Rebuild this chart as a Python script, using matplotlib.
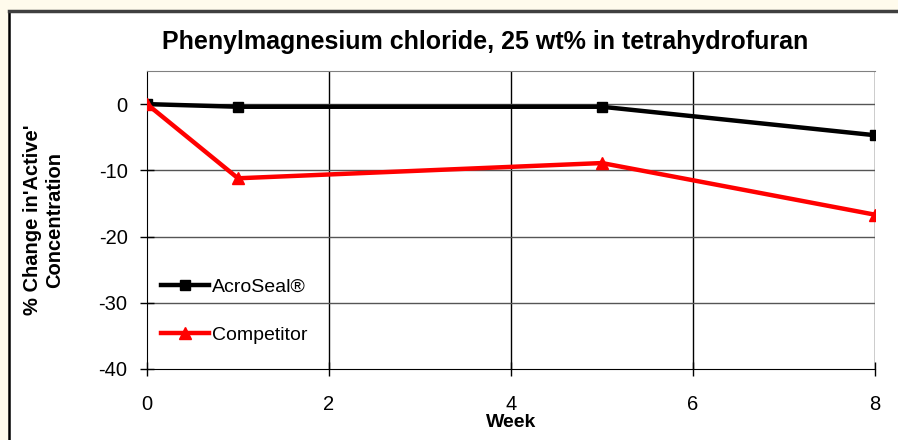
import matplotlib.pyplot as plt

weeks_acro = [0, 1, 5, 8]
acroseal = [0, -0.4, -0.4, -4.7]
weeks_comp = [0, 1, 5, 8]
competitor = [0, -11.2, -8.9, -16.7]

plt.rcParams['font.family'] = ['Liberation Sans', 'DejaVu Sans']
plt.rcParams['axes.unicode_minus'] = False

W, H = 898, 440
fig = plt.figure(figsize=(W / 100, H / 100), dpi=100)
fig.patch.set_facecolor('#FFFBEC')

# white chart box with dark top/left border, running off the right and bottom
bg = fig.add_axes([9 / W, 0, 1 - 9 / W, (H - 11) / H], zorder=0)
bg.set_facecolor('white')
bg.set_xticks([])
bg.set_yticks([])
bg.spines['right'].set_visible(False)
bg.spines['bottom'].set_visible(False)
bg.spines['top'].set_color('#404040')
bg.spines['top'].set_linewidth(2.5)
bg.spines['left'].set_color('black')
bg.spines['left'].set_linewidth(1.8)

ax = fig.add_axes([147 / W, 1 - 369 / H, (875 - 147) / W, (369 - 71) / H], zorder=1)
ax.set_facecolor('white')

ax.plot(weeks_acro, acroseal, color='black', lw=3.2, marker='s', ms=7, label='AcroSeal®', zorder=3)
ax.plot(weeks_comp, competitor, color='red', lw=3.2, marker='^', ms=9, label='Competitor', zorder=3)

ax.set_xlim(0, 8)
ax.set_ylim(-40, 5)
ax.set_xticks([0, 2, 4, 6, 8])
ax.set_yticks([0, -10, -20, -30, -40])

for x in [2, 4, 6, 8]:
    ax.axvline(x, color='black', lw=1, zorder=1)
for y in [0, -10, -20, -30]:
    ax.axhline(y, color='#555555', lw=1, zorder=1)

ax.spines['top'].set_color('#808080')
ax.spines['right'].set_visible(False)
ax.spines['left'].set_color('black')
ax.spines['bottom'].set_color('black')

ax.tick_params(axis='both', direction='inout', length=10, width=1, labelsize=14.5)
ax.tick_params(axis='x', pad=14)
ax.tick_params(axis='y', pad=9)

ax.set_xlabel('Week', fontsize=14, fontweight='bold')
ax.xaxis.set_label_coords(0.5, -0.152)
ax.set_ylabel("% Change in'Active'\nConcentration", fontsize=14.5, fontweight='bold')
ax.yaxis.set_label_coords(-0.114, 0.5)

fig.text(485 / W, 1 - 42 / H, 'Phenylmagnesium chloride, 25 wt% in tetrahydrofuran',
         fontsize=18, fontweight='bold', ha='center', va='center')

ax.legend(loc='upper left', bbox_to_anchor=(0.0, 0.35), frameon=False, fontsize=14,
          handlelength=2.5, handletextpad=0.15, labelspacing=1.55, borderaxespad=0.3)

fig.savefig('out.png', dpi=100, facecolor=fig.get_facecolor())
